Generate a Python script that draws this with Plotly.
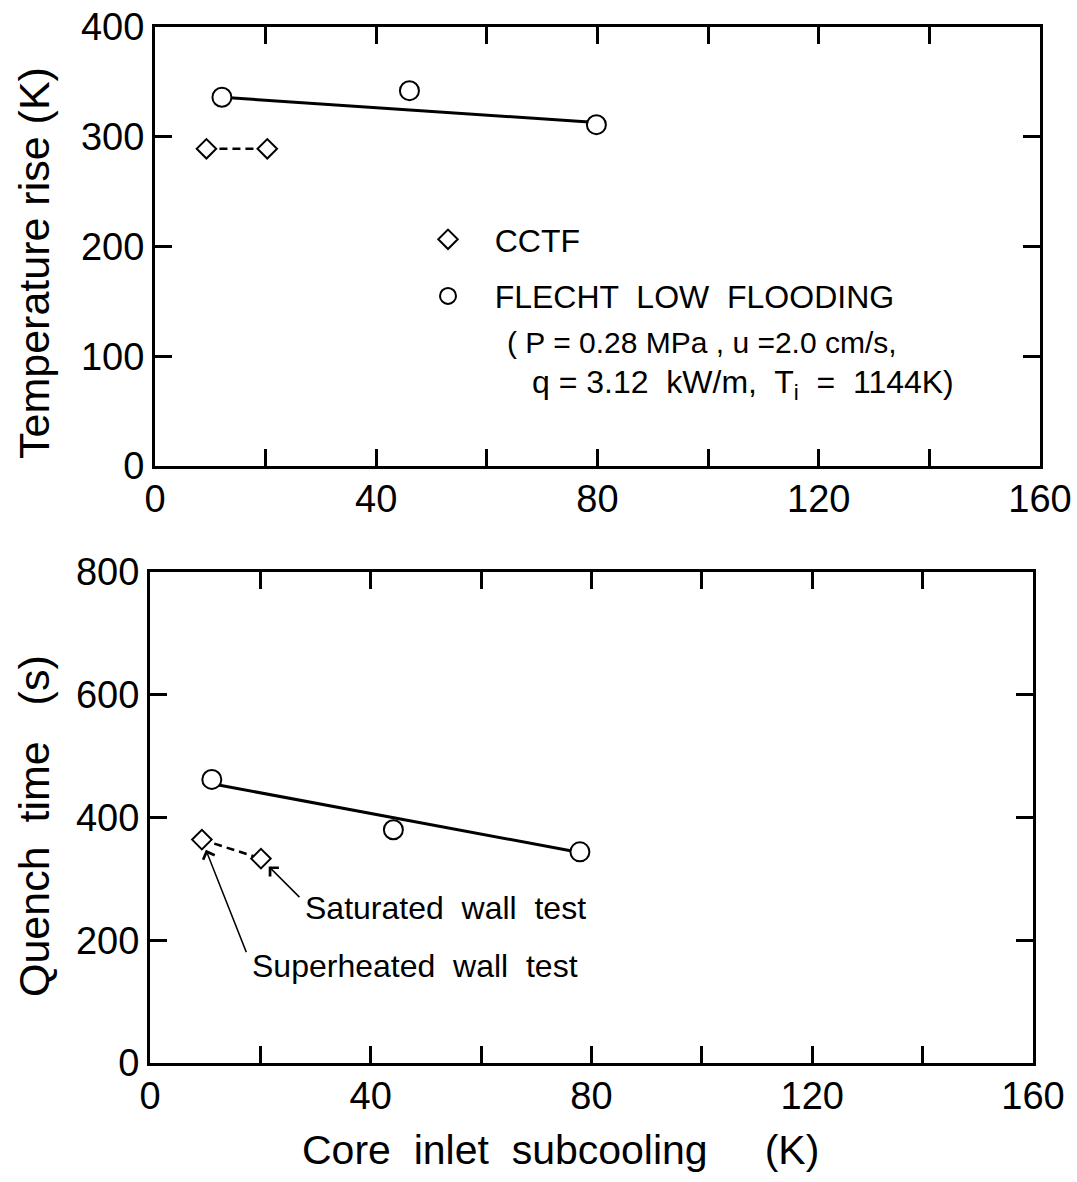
import plotly.graph_objects as go

# ---- data ----
# Top panel: temperature rise (K) vs core inlet subcooling (K)
cctf_sub_top = [9.3, 20.3]
cctf_temp = [289, 289]
flecht_sub_top = [12.1, 46.0, 79.8]
flecht_temp = [336, 342, 311]
fit_sub_top = [12.1, 79.8]
fit_temp = [336, 313]

# Bottom panel: quench time (s) vs core inlet subcooling (K)
cctf_sub_bot = [9.4, 20.1]
cctf_quench = [364, 333]
flecht_sub_bot = [11.2, 44.1, 77.9]
flecht_quench = [462, 380, 344]
fit_sub_bot = [11.2, 77.9]
fit_quench = [455, 343]

x_ticks = [0, 20, 40, 60, 80, 100, 120, 140, 160]
x_labels = ["0", "", "40", "", "80", "", "120", "", "160"]
y_top_ticks = [0, 100, 200, 300, 400]
y_bot_ticks = [0, 200, 400, 600, 800]

FONT = "Liberation Sans, Arial, sans-serif"
W, H = 1077, 1182

fig = go.Figure()

# ---- top panel ----
fig.add_trace(go.Scatter(x=fit_sub_top, y=fit_temp, mode="lines",
                         line=dict(color="black", width=3), showlegend=False,
                         xaxis="x", yaxis="y"))
fig.add_trace(go.Scatter(x=cctf_sub_top, y=cctf_temp, mode="lines",
                         line=dict(color="black", width=2.5, dash="8px,5px"),
                         showlegend=False, xaxis="x", yaxis="y"))
fig.add_trace(go.Scatter(x=cctf_sub_top, y=cctf_temp, mode="markers", name="   CCTF",
                         legendgroup="a",
                         marker=dict(symbol="diamond", size=15, color="white",
                                     line=dict(color="black", width=2)),
                         xaxis="x", yaxis="y"))
fig.add_trace(go.Scatter(x=flecht_sub_top, y=flecht_temp, mode="markers",
                         name="   FLECHT  LOW  FLOODING", legendgroup="b",
                         marker=dict(symbol="circle", size=19, color="white",
                                     line=dict(color="black", width=2)),
                         xaxis="x", yaxis="y"))

# ---- bottom panel ----
fig.add_trace(go.Scatter(x=fit_sub_bot, y=fit_quench, mode="lines",
                         line=dict(color="black", width=3), showlegend=False,
                         xaxis="x2", yaxis="y2"))
fig.add_trace(go.Scatter(x=cctf_sub_bot, y=cctf_quench, mode="lines",
                         line=dict(color="black", width=2.5, dash="8px,5px"),
                         showlegend=False, xaxis="x2", yaxis="y2"))
fig.add_trace(go.Scatter(x=cctf_sub_bot, y=cctf_quench, mode="markers", showlegend=False,
                         marker=dict(symbol="diamond", size=15, color="white",
                                     line=dict(color="black", width=2)),
                         xaxis="x2", yaxis="y2"))
fig.add_trace(go.Scatter(x=flecht_sub_bot, y=flecht_quench, mode="markers", showlegend=False,
                         marker=dict(symbol="circle", size=19, color="white",
                                     line=dict(color="black", width=2)),
                         xaxis="x2", yaxis="y2"))

axis_common = dict(showline=True, linecolor="black", linewidth=3, mirror="allticks",
                   ticks="inside", ticklen=17, tickwidth=2.5, tickcolor="black",
                   showgrid=False, zeroline=False, automargin=False,
                   tickfont=dict(family=FONT, size=38, color="black"))

fig.update_layout(
    width=W, height=H,
    margin=dict(l=0, r=0, t=0, b=0, autoexpand=False),
    paper_bgcolor="white", plot_bgcolor="white",
    font=dict(family=FONT, color="black"),
    xaxis=dict(axis_common, domain=[155 / W, 1040 / W], range=[0, 160],
               tickvals=x_ticks, ticktext=x_labels, anchor="y", ticklabelstandoff=-3),
    yaxis=dict(axis_common, domain=[1 - 466 / H, 1 - 27 / H], range=[0, 400],
               tickvals=y_top_ticks, anchor="x", ticklabelstandoff=0),
    xaxis2=dict(axis_common, domain=[150 / W, 1033 / W], range=[0, 160],
                tickvals=x_ticks, ticktext=x_labels, anchor="y2", ticklabelstandoff=-3),
    yaxis2=dict(axis_common, domain=[1 - 1063 / H, 1 - 572 / H], range=[0, 800],
                tickvals=y_bot_ticks, anchor="x2", ticklabelstandoff=0),
    legend=dict(x=428 / W, y=1 - 212 / H, xanchor="left", yanchor="top",
                bgcolor="rgba(0,0,0,0)", font=dict(family=FONT, size=32, color="black"),
                traceorder="grouped", tracegroupgap=12),
    showlegend=True,
)

ann = [
    dict(text="Temperature rise (K)", x=34 / W, y=1 - 263 / H, textangle=-90,
         font=dict(size=43)),
    dict(text="Quench  time   (s)", x=34 / W, y=1 - 826 / H, textangle=-90,
         font=dict(size=43)),
    dict(text="Core  inlet  subcooling     (K)", x=560 / W, y=1 - 1150 / H,
         font=dict(size=41)),
    dict(text="( P = 0.28 MPa , u =2.0 cm/s,", x=505 / W, y=1 - 342 / H,
         xanchor="left", font=dict(size=30)),
    dict(text="q = 3.12  kW/m,  T<sub>i</sub>  =  1144K)", x=530 / W, y=1 - 385 / H,
         xanchor="left", font=dict(size=32)),
    dict(text="Saturated  wall  test", x=303 / W, y=1 - 908 / H,
         xanchor="left", font=dict(size=32)),
    dict(text="Superheated  wall  test", x=250 / W, y=1 - 966 / H,
         xanchor="left", font=dict(size=32)),
]
for a in ann:
    a.setdefault("xanchor", "center")
    a.update(xref="paper", yref="paper", yanchor="middle", showarrow=False)
    a["font"] = dict(family=FONT, color="black", **a["font"])
    fig.add_annotation(**a)

# arrows pointing at the CCTF points in the bottom panel
fig.add_annotation(x=cctf_sub_bot[1], y=cctf_quench[1], xref="x2", yref="y2",
                   text="", showarrow=True, ax=40, ay=40, arrowhead=4, arrowsize=1.6,
                   arrowwidth=1.5, arrowcolor="black", standoff=11)
fig.add_annotation(x=cctf_sub_bot[0], y=cctf_quench[0], xref="x2", yref="y2",
                   text="", showarrow=True, ax=45, ay=114, arrowhead=4, arrowsize=1.6,
                   arrowwidth=1.5, arrowcolor="black", standoff=11)

fig.write_html("out.html")
